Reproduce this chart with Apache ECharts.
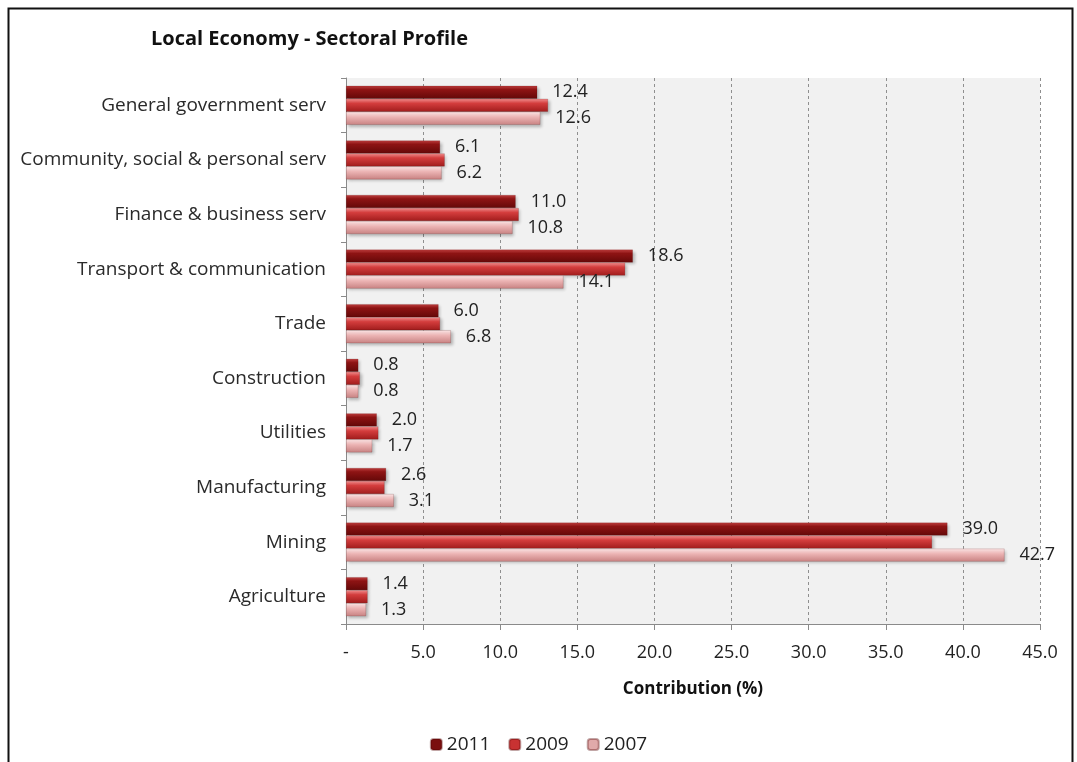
<!DOCTYPE html>
<html>
<head>
<meta charset="utf-8">
<script src="https://cdn.jsdelivr.net/npm/echarts@6/dist/echarts.min.js"></script>
<style>
html,body{margin:0;padding:0;background:#fff;}
#chart{width:1077px;height:762px;}
</style>
</head>
<body>
<div id="chart"></div>
<script>
const categories = ['General government serv','Community, social & personal serv','Finance & business serv','Transport & communication','Trade','Construction','Utilities','Manufacturing','Mining','Agriculture'];
const seriesNames = ['2011','2009','2007'];
const values2011 = [12.4, 6.1, 11.0, 18.6, 6.0, 0.8, 2.0, 2.6, 39.0, 1.4];
const values2009 = [13.1, 6.4, 11.2, 18.1, 6.1, 0.9, 2.1, 2.5, 38.0, 1.4];
const values2007 = [12.6, 6.2, 10.8, 14.1, 6.8, 0.8, 1.7, 3.1, 42.7, 1.3];

const FONT = 'Open Sans';
function grad(stops){
  return new echarts.graphic.LinearGradient(0,0,0,1, stops.map(s=>({offset:s[0], color:s[1]})));
}
const colors = [
  grad([[0,'#c24040'],[0.3,'#8e1414'],[1,'#640808']]),
  grad([[0,'#f49090'],[0.35,'#d43d3d'],[1,'#a01c1c']]),
  grad([[0,'#fde8e8'],[0.4,'#ecb4b4'],[1,'#c88282']])
];
const legendColors = ['#7a0e0e','#c83232','#e0aaaa'];
function labelCfg(show){
  return {show:show, position:'right', distance:15, color:'#222', fontFamily:FONT, fontSize:18,
    formatter:p=>p.value.toFixed(1)};
}
const chart = echarts.init(document.getElementById('chart'));
const dataSets = [values2011, values2009, values2007];
chart.setOption({
  animation:false,
  backgroundColor:'#fff',
  title:{text:'Local Economy - Sectoral Profile', left:146, top:24,
    textStyle:{fontFamily:FONT, fontWeight:'bold', fontSize:20, color:'#111'}},
  legend:{bottom:3, left:'center', itemWidth:11, itemHeight:11, itemGap:18,
    textStyle:{fontFamily:FONT, fontSize:19, color:'#222'},
    data:seriesNames.map((n,i)=>({name:n, itemStyle:{color:legendColors[i]}}))},
  grid:{left:346, right:37, top:78, bottom:138, show:true, backgroundColor:'#f1f1f1', borderWidth:0},
  xAxis:{type:'value', min:0, max:45, interval:5,
    name:'Contribution (%)', nameLocation:'middle', nameGap:57,
    nameTextStyle:{fontFamily:FONT, fontWeight:'bold', fontSize:17, color:'#111'},
    axisLine:{show:true, lineStyle:{color:'#8a8a8a'}},
    axisTick:{show:true, length:6, lineStyle:{color:'#8a8a8a'}},
    axisLabel:{fontFamily:FONT, fontSize:18, color:'#222', margin:20,
      formatter:v=> v===0 ? '-' : v.toFixed(1)},
    splitLine:{show:true, lineStyle:{color:'#8f8f8f', type:[3,3]}}},
  yAxis:{type:'category', data:categories, inverse:true,
    axisLine:{show:true, lineStyle:{color:'#8a8a8a'}},
    axisTick:{show:true, length:5, lineStyle:{color:'#8a8a8a'}},
    axisLabel:{fontFamily:FONT, fontSize:19, color:'#2a2a2a', margin:20}},
  series: seriesNames.map((n,i)=>({
    name:n, type:'bar', data:dataSets[i], barWidth:13, barGap:'0%',
    itemStyle:{color:colors[i], borderColor:'rgba(80,0,0,0.35)', borderWidth:0.5,
      shadowColor:'rgba(0,0,0,0.25)', shadowBlur:3, shadowOffsetX:2, shadowOffsetY:2},
    label:labelCfg(i!==1)
  })),
  graphic:[{type:'rect', left:6, top:6, shape:{width:1064, height:800},
    style:{fill:null, stroke:'#111', lineWidth:2}, silent:true}]
});
</script>
</body>
</html>
